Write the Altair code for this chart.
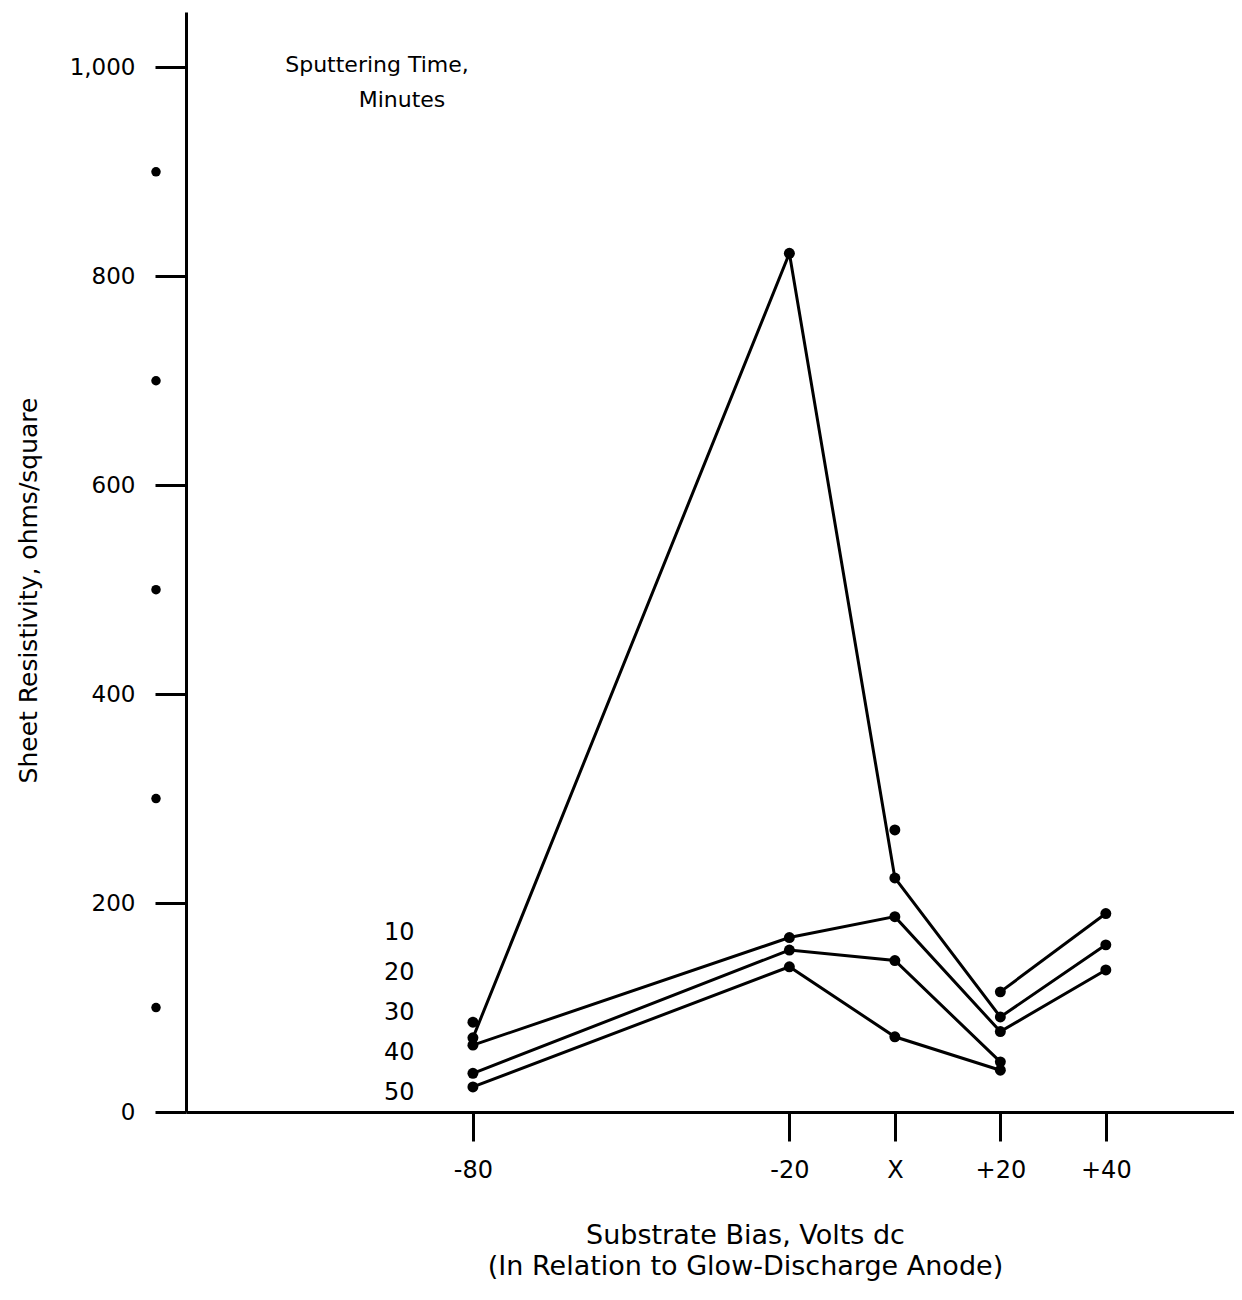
import altair as alt
import pandas as pd

# ---- data ----
bias = [-80, -20, 0, 20, 40]
bias_labels = ["-80", "-20", "X", "+20", "+40"]

line_a = [71, 822, 224, 91, 160]
line_b = [64, 167, 187, 77, 136]
line_c = [37, 155, 145, 48, None]
line_d = [24, 139, 72, 40, None]
line_e = [None, None, None, 115, 190]

loose_bias = [-80, 0]
loose_vals = [86, 270]

times = ["10", "20", "30", "40", "50"]
y_ticks = [0, 200, 400, 600, 800, 1000]
minor_ticks = [100, 300, 500, 700, 900]

FONT = "DejaVu Sans"

rows = []
for name, vals in [("a", line_a), ("b", line_b), ("c", line_c), ("d", line_d), ("e", line_e)]:
    for i, (b, v) in enumerate(zip(bias, vals)):
        if v is not None:
            rows.append({"line": name, "order": i, "bias": b, "res": v})
df = pd.DataFrame(rows)
loose = pd.DataFrame({"bias": loose_bias, "res": loose_vals})
minor = pd.DataFrame({"res": minor_ticks})
tdf = pd.DataFrame({"time": times})
one = pd.DataFrame({"k": [0]})

label_map = " : ".join(
    f"datum.value == {b} ? '{l}'" for b, l in zip(bias, bias_labels)
) + " : ''"

xscale = alt.Scale(domain=[-134.4, 64.3], nice=False, zero=False)
yscale = alt.Scale(domain=[0, 1053], nice=False, zero=False)

x_enc = alt.X(
    "bias:Q",
    scale=xscale,
    axis=alt.Axis(
        values=bias,
        labelExpr=label_map,
        grid=False,
        domainColor="black",
        domainWidth=3,
        tickColor="black",
        tickWidth=3,
        tickSize=29,
        labelPadding=17,
        labelFont=FONT,
        labelFontSize=24,
        labelColor="black",
        title=["Substrate Bias, Volts dc", "(In Relation to Glow-Discharge Anode)"],
        titleFont=FONT,
        titleFontSize=27,
        titleFontWeight="normal",
        titleColor="black",
        titleX=559,
        titleY=110,
        titleAlign="center",
        titleBaseline="top",
        titleLineHeight=31,
    ),
)
y_enc = alt.Y(
    "res:Q",
    scale=yscale,
    axis=alt.Axis(
        values=y_ticks,
        format=",d",
        grid=False,
        domainColor="black",
        domainWidth=3,
        tickColor="black",
        tickWidth=3,
        tickSize=31,
        labelPadding=20,
        labelFont=FONT,
        labelFontSize=23,
        labelColor="black",
        title="Sheet Resistivity, ohms/square",
        titleFont=FONT,
        titleFontSize=25,
        titleFontWeight="normal",
        titleColor="black",
        titleAngle=270,
        titleX=-158,
        titleY=578,
        titleAlign="center",
        titleBaseline="middle",
    ),
)

lines = alt.Chart(df).mark_line(color="black", strokeWidth=3).encode(
    x=x_enc, y=y_enc, detail="line:N", order="order:Q"
)
pts = alt.Chart(df).mark_circle(color="black", opacity=1, size=120).encode(
    x=alt.X("bias:Q", scale=xscale), y=alt.Y("res:Q", scale=yscale)
)
loose_pts = alt.Chart(loose).mark_circle(color="black", opacity=1, size=120).encode(
    x=alt.X("bias:Q", scale=xscale), y=alt.Y("res:Q", scale=yscale)
)
minor_pts = alt.Chart(minor).mark_circle(color="black", opacity=1, size=90, clip=False).encode(
    x=alt.value(-30), y=alt.Y("res:Q", scale=yscale)
)

head1 = alt.Chart(one).mark_text(
    text="Sputtering Time,", font=FONT, fontSize=22, align="center", baseline="middle", color="black"
).encode(x=alt.value(191), y=alt.value(53))
head2 = alt.Chart(one).mark_text(
    text="Minutes", font=FONT, fontSize=22, align="center", baseline="middle", color="black"
).encode(x=alt.value(216), y=alt.value(88))

time_labels = alt.Chart(tdf).mark_text(
    font=FONT, fontSize=24, align="left", baseline="middle", color="black"
).encode(
    x=alt.value(198),
    y=alt.Y("time:O", scale=alt.Scale(range=[921, 1081], padding=0), axis=None),
    text="time:N",
)

main = alt.layer(lines, pts, loose_pts, minor_pts, head1, head2)
chart = (
    alt.layer(main, time_labels)
    .resolve_scale(y="independent")
    .properties(
        width=1048,
        height=1100,
        autosize=alt.AutoSizeParams(type="none"),
        padding={"left": 178, "top": 4, "right": 0, "bottom": 176},
        background="white",
    )
    .configure_view(stroke=None)
)

chart.save("out.html", embed_options={"renderer": "svg", "actions": False})
